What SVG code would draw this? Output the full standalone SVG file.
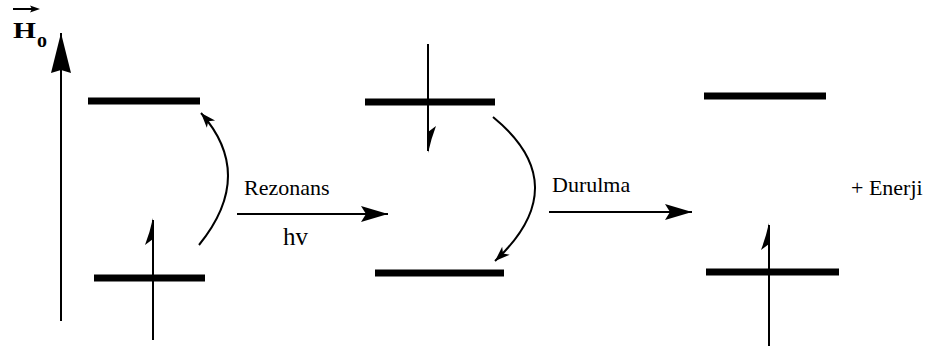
<svg xmlns="http://www.w3.org/2000/svg" width="927" height="351" viewBox="0 0 927 351">
  <style>
    .lvl { stroke: #000; stroke-width: 7; fill: none; }
    .ln { stroke: #000; stroke-width: 2; fill: none; }
    .spin { stroke: #000; stroke-width: 2; fill: none; }
    .fin { fill: #000; stroke: none; }
    text { font-family: 'Liberation Serif', 'Times New Roman', Times, 'DejaVu Serif', serif; fill: #000; }
  </style>
  <defs>
    <marker id="arrBig" markerUnits="userSpaceOnUse" markerWidth="30" markerHeight="20" viewBox="-28 -10 30 20" refX="0" refY="0" orient="auto">
      <path d="M0,0 L-27,-8 L-22,0 L-27,8 Z" fill="#000"/>
    </marker>
    <marker id="arrAxis" markerUnits="userSpaceOnUse" markerWidth="44" markerHeight="24" viewBox="-42 -12 44 24" refX="0" refY="0" orient="auto">
      <path d="M0,0 L-40,-10 L-37,0 L-40,10 Z" fill="#000"/>
    </marker>
    <marker id="arrSmall" markerUnits="userSpaceOnUse" markerWidth="18" markerHeight="14" viewBox="-16 -7 18 14" refX="0" refY="0" orient="auto">
      <path d="M0,0 L-15,-5.5 L-11,0 L-15,5.5 Z" fill="#000"/>
    </marker>
    <!-- half arrowhead for a spin pointing up; fin on the left -->
    <path id="finUp" class="fin" d="M0,0 Q-3,14 -8,27 L0,21 Z"/>
  </defs>

  <!-- field axis -->
  <g id="axis">
    <line class="ln" x1="61" y1="321" x2="61" y2="33" marker-end="url(#arrAxis)"/>
    <line class="ln" x1="13" y1="9" x2="34" y2="9"/>
    <path d="M40,9 L30,5.5 L32,9 L30,12.5 Z" fill="#000"/>
    <text x="13" y="38" font-family="Liberation Serif, serif" font-size="24" font-weight="bold" textLength="23" lengthAdjust="spacingAndGlyphs">H</text>
    <text x="37" y="47" font-family="Liberation Serif, serif" font-size="20" font-weight="bold">o</text>
  </g>

  <!-- state 1: spin in lower level -->
  <g id="state1">
    <line class="lvl" x1="88" y1="101" x2="200" y2="101"/>
    <line class="lvl" x1="94" y1="278" x2="205" y2="278"/>
    <line class="spin" x1="153" y1="340" x2="153" y2="220"/>
    <use href="#finUp" transform="translate(153,218)"/>
  </g>

  <!-- state 2: spin in upper level, flipped -->
  <g id="state2">
    <line class="lvl" x1="365" y1="102" x2="495" y2="102"/>
    <line class="lvl" x1="375" y1="273" x2="504" y2="273"/>
    <line class="spin" x1="428" y1="44" x2="428" y2="151"/>
    <use href="#finUp" transform="translate(428,153) rotate(180)"/>
  </g>

  <!-- state 3: spin back in lower level -->
  <g id="state3">
    <line class="lvl" x1="704" y1="96" x2="826" y2="96"/>
    <line class="lvl" x1="706" y1="272" x2="839" y2="272"/>
    <line class="spin" x1="769" y1="346" x2="769" y2="225"/>
    <use href="#finUp" transform="translate(769,223)"/>
  </g>

  <!-- transitions -->
  <g id="connectors">
    <path class="ln" d="M199,245 Q256,175 201,113" marker-end="url(#arrSmall)"/>
    <path class="ln" d="M493,117 Q576,185 495,261" marker-end="url(#arrSmall)"/>
    <line class="ln" x1="237" y1="214" x2="388" y2="214" marker-end="url(#arrBig)"/>
    <line class="ln" x1="549" y1="212" x2="692" y2="212" marker-end="url(#arrBig)"/>
  </g>

  <g id="labels">
    <text x="244" y="195" font-size="22">Rezonans</text>
    <text x="283" y="245" font-size="25">hv</text>
    <text x="552" y="192" font-size="22">Durulma</text>
    <text x="851" y="195" font-size="22">+ Enerji</text>
  </g>
</svg>
